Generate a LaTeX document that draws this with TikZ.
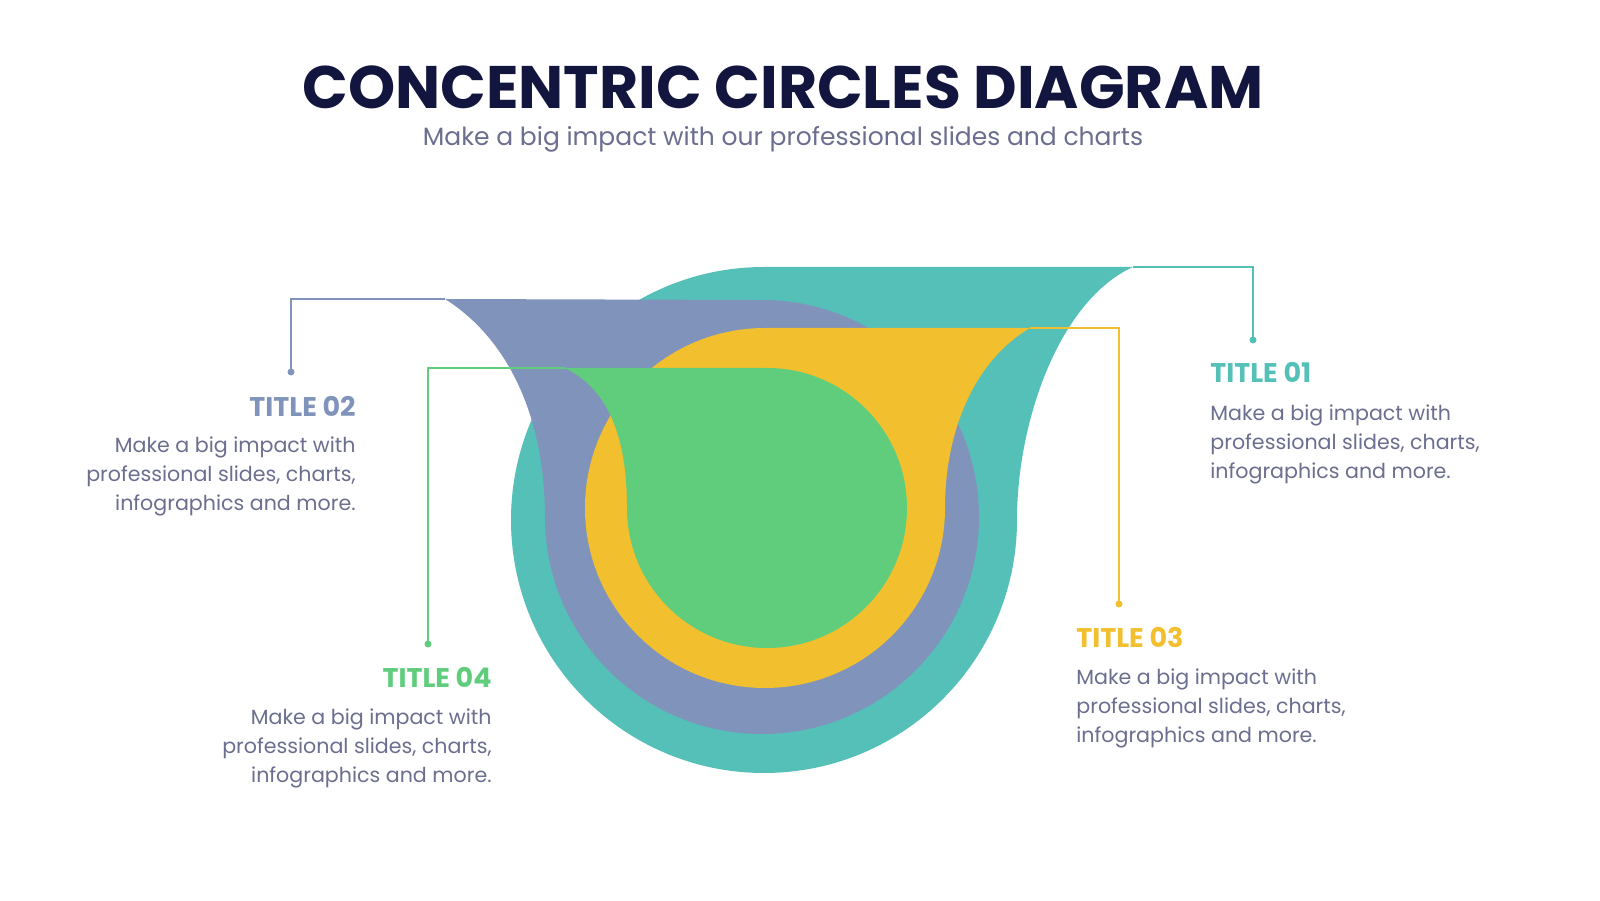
\documentclass[tikz,border=0pt]{standalone}
\usepackage{fontspec}
\setmainfont{Poppins}
\definecolor{teal1}{HTML}{55C0B8}
\definecolor{purp}{HTML}{8093BB}
\definecolor{yel}{HTML}{F2BF2E}
\definecolor{grn}{HTML}{5FCD7C}
\definecolor{navy}{HTML}{12163F}
\definecolor{txt}{HTML}{6B6E8E}
\tikzset{
  lead/.style={line width=1pt},
  dotm/.style={circle,fill,inner sep=0pt,minimum size=3.5pt},
  ttl/.style={font=\fontsize{13.5}{16}\selectfont\bfseries,inner sep=0pt},
  body/.style={font=\fontsize{10.3}{14.6}\selectfont,text=txt,inner sep=0pt},
}
\begin{document}
\begin{tikzpicture}[x=0.5pt,y=0.5pt]
\useasboundingbox (0,0) rectangle (1600,900);
\node[font=\fontsize{30}{34}\selectfont\bfseries,text=navy] (title) at (783,813) {CONCENTRIC CIRCLES DIAGRAM};
\node[font=\fontsize{12.5}{15}\selectfont,text=txt] (sub) at (783,761) {Make a big impact with our professional slides and charts};
% shapes
\fill[teal1] (1017,380) arc[start angle=0,end angle=-270,radius=253] -- (1133,633) .. controls (1060,600) and (1017,480) .. (1017,380) -- cycle;
\fill[purp] (445,601) -- (762,600) arc[start angle=90,end angle=-180,radius=217] .. controls (545,480) and (510,560) .. (445,601) -- cycle;
\fill[yel] (945,392) arc[start angle=0,end angle=-270,radius=180] -- (1030,572) .. controls (975,540) and (945,470) .. (945,392) -- cycle;
\fill[grn] (565,532) -- (767,532) arc[start angle=90,end angle=-180,radius=140] .. controls (627,460) and (610,510) .. (565,532) -- cycle;
% leader coordinates
\coordinate (a1) at (1133,633); \coordinate (b1) at (1253,560);
\coordinate (a2) at (445,601); \coordinate (b2) at (291,528);
\coordinate (a3) at (1030,572); \coordinate (b3) at (1119,296);
\coordinate (a4) at (565,532); \coordinate (b4) at (428,256);
\draw[lead,teal1] (a1) -| (b1); \node[dotm,teal1] (d1) at (b1) {};
\draw[lead,purp] (a2) -| (b2); \node[dotm,purp] (d2) at (b2) {};
\draw[lead,yel] (a3) -| (b3); \node[dotm,yel] (d3) at (b3) {};
\draw[lead,grn] (a4) -| (b4); \node[dotm,grn] (d4) at (b4) {};
% texts
\node[ttl,text=teal1,anchor=west] (t1) at (1210,528) {TITLE 01};
\node[body,anchor=north west,align=left] (p1) at (1210,496) {Make a big impact with\\professional slides, charts,\\infographics and more.};
\node[ttl,text=purp,anchor=east] (t2) at (356,494) {TITLE 02};
\node[body,anchor=north east,align=right] (p2) at (356,464) {Make a big impact with\\professional slides, charts,\\infographics and more.};
\node[ttl,text=yel,anchor=west] (t3) at (1076,263) {TITLE 03};
\node[body,anchor=north west,align=left] (p3) at (1076,232) {Make a big impact with\\professional slides, charts,\\infographics and more.};
\node[ttl,text=grn,anchor=east] (t4) at (492,223) {TITLE 04};
\node[body,anchor=north east,align=right] (p4) at (492,192) {Make a big impact with\\professional slides, charts,\\infographics and more.};
\end{tikzpicture}
\end{document}
